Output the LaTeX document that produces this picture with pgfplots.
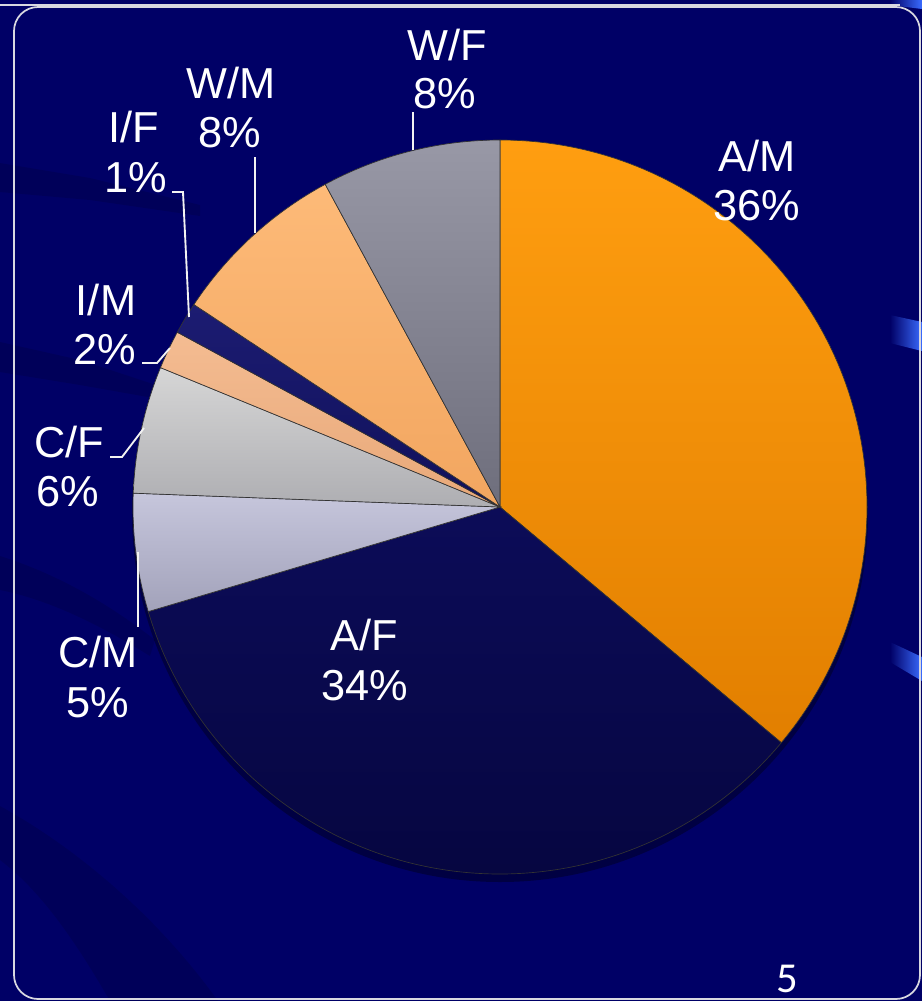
\documentclass[border=0pt]{standalone}
\usepackage{pgfplots}
\usepackage{pgfplotstable}
\pgfplotsset{compat=1.18}
\usepackage{fontspec}
\setmainfont{Liberation Sans}
\newfontfamily\pagefont{Carlito}

\definecolor{bg}{HTML}{000066}
\definecolor{st0}{HTML}{FF9E10}\definecolor{sb0}{HTML}{E27F00}
\definecolor{st1}{HTML}{0C0C58}\definecolor{sb1}{HTML}{05053E}
\definecolor{st2}{HTML}{C6C6DC}\definecolor{sb2}{HTML}{A2A2BA}
\definecolor{st3}{HTML}{D6D6D6}\definecolor{sb3}{HTML}{AEAEB2}
\definecolor{st4}{HTML}{F4BC92}\definecolor{sb4}{HTML}{E8A878}
\definecolor{st5}{HTML}{1C1C72}\definecolor{sb5}{HTML}{10105A}
\definecolor{st6}{HTML}{FDBA78}\definecolor{sb6}{HTML}{F2A660}
\definecolor{st7}{HTML}{9898A6}\definecolor{sb7}{HTML}{6E6E7C}
\definecolor{lead}{HTML}{F2F2F2}
\definecolor{frame}{HTML}{D8D8E0}
\definecolor{brightblue}{HTML}{3A6BFF}

% shares, clockwise from 12 o'clock
\pgfplotstableread{
label value
A/M 36.1
A/F 34.3
C/M 5.2
C/F 5.6
I/M 1.7
I/F 1.4
W/M 7.8
W/F 7.9
}\piedata

\pgfplotstablegetrowsof{\piedata}%
\pgfmathtruncatemacro\lastrow{\pgfplotsretval-1}%
\gdef\cum{0}%
\pgfplotsforeachungrouped \i in {0,...,\lastrow}{%
  \pgfplotstablegetelem{\i}{value}\of\piedata
  \pgfmathsetmacro\va{90-3.6*\cum}%
  \pgfmathsetmacro\newcum{\cum+\pgfplotsretval}%
  \pgfmathsetmacro\vb{90-3.6*\newcum}%
  \pgfmathsetmacro\vx{500+367*cos(\va)}%
  \pgfmathsetmacro\vy{507-367*sin(\va)}%
  \expandafter\xdef\csname pa\i\endcsname{\va}%
  \expandafter\xdef\csname pb\i\endcsname{\vb}%
  \expandafter\xdef\csname sx\i\endcsname{\vx}%
  \expandafter\xdef\csname sy\i\endcsname{\vy}%
  \xdef\cum{\newcum}%
}%

\begin{document}
\begin{tikzpicture}[lab/.style={text=white, font=\fontsize{32.5}{35}\selectfont, anchor=base, inner sep=0pt}]
\begin{axis}[
  x=0.75pt, y=0.75pt,
  xmin=0, xmax=922, ymin=0, ymax=1001,
  y dir=reverse,
  hide axis,
  clip=true,
]
% background
\fill[bg] (axis cs:0,0) rectangle (axis cs:922,1001);
% subtle dark stripes on the left
\fill[black, opacity=0.12] (axis cs:0,163) -- (axis cs:90,178) -- (axis cs:200,205) -- (axis cs:200,216) -- (axis cs:90,200) -- (axis cs:0,192) -- cycle;
\fill[black, opacity=0.12] (axis cs:0,342) -- (axis cs:80,360) -- (axis cs:165,388) -- (axis cs:165,400) -- (axis cs:80,385) -- (axis cs:0,372) -- cycle;
\fill[black, opacity=0.12] (axis cs:0,556) .. controls (axis cs:60,575) and (axis cs:110,605) .. (axis cs:155,640) -- (axis cs:150,656) .. controls (axis cs:100,625) and (axis cs:50,600) .. (axis cs:0,590) -- cycle;
\fill[black, opacity=0.12] (axis cs:0,806) .. controls (axis cs:80,850) and (axis cs:160,920) .. (axis cs:218,1001) -- (axis cs:110,1001) .. controls (axis cs:75,940) and (axis cs:40,890) .. (axis cs:0,860) -- cycle;
% blue shapes at the right edge
\path[left color=bg, right color=brightblue] (axis cs:890,315) -- (axis cs:922,322) -- (axis cs:922,351) -- (axis cs:890,343) -- cycle;
\path[left color=bg, right color=brightblue] (axis cs:890,642) -- (axis cs:922,657) -- (axis cs:922,681) -- (axis cs:890,662) -- cycle;
\path[left color=bg, right color=brightblue] (axis cs:890,0) -- (axis cs:922,0) -- (axis cs:922,9) -- (axis cs:890,5) -- cycle;
% slide frame
\draw[frame, line width=1.3pt] (axis cs:0,5) -- (axis cs:900,5);
\draw[frame, line width=1.3pt, rounded corners=18pt] (axis cs:14,7) rectangle (axis cs:920,999);
% pie shadow
\fill[black, opacity=0.35] (axis cs:500,514) circle[radius=276pt];
% slices
\pgfplotsinvokeforeach{0,...,7}{%
  \path[draw=black!80, line width=0.5pt, top color=st#1, bottom color=sb#1]
    (axis cs:\csname sx#1\endcsname,\csname sy#1\endcsname)
    arc[start angle=\csname pa#1\endcsname, end angle=\csname pb#1\endcsname, radius=275.25pt]
    -- (axis cs:500,507) -- cycle;
}
% leader lines
\draw[lead, line width=1.4pt] (axis cs:413,112) -- (axis cs:413,150);
\draw[lead, line width=1.4pt] (axis cs:255,157) -- (axis cs:255,233);
\draw[lead, line width=1.4pt] (axis cs:172,192) -- (axis cs:183,192) -- (axis cs:189,317);
\draw[lead, line width=1.4pt] (axis cs:142,363) -- (axis cs:157,363) -- (axis cs:170,348);
\draw[lead, line width=1.4pt] (axis cs:110,457) -- (axis cs:122,457) -- (axis cs:144,428);
\draw[lead, line width=1.4pt] (axis cs:138,552) -- (axis cs:138,627);
% labels
\node[lab] at (axis cs:757,171) {A/M};
\node[lab] at (axis cs:757,220) {36\%};
\node[lab] at (axis cs:364,650) {A/F};
\node[lab] at (axis cs:365,700) {34\%};
\node[lab] at (axis cs:98,667) {C/M};
\node[lab] at (axis cs:98,717) {5\%};
\node[lab] at (axis cs:69,457) {C/F};
\node[lab] at (axis cs:68,506) {6\%};
\node[lab] at (axis cs:106,315) {I/M};
\node[lab] at (axis cs:105,364) {2\%};
\node[lab] at (axis cs:134,142) {I/F};
\node[lab] at (axis cs:136,192) {1\%};
\node[lab] at (axis cs:231,98) {W/M};
\node[lab] at (axis cs:230,147) {8\%};
\node[lab] at (axis cs:447,60) {W/F};
\node[lab] at (axis cs:445,108) {8\%};
% slide number
\node[text=white, font=\pagefont\fontsize{32}{34}\selectfont, anchor=base, inner sep=0pt] at (axis cs:787,992) {5};
\end{axis}
\end{tikzpicture}
\end{document}
